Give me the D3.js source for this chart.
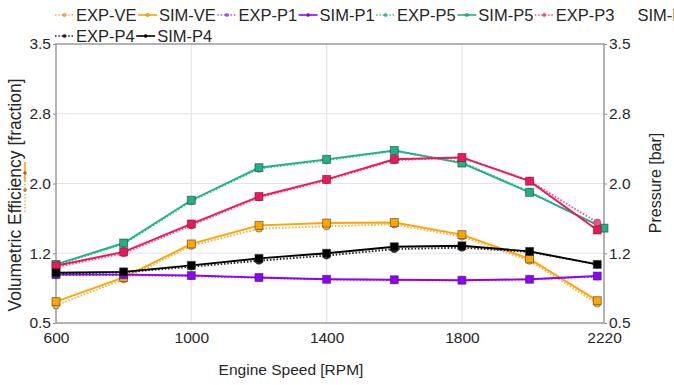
<!DOCTYPE html>
<html>
<head>
<meta charset="utf-8">
<script src="https://cdn.jsdelivr.net/npm/d3@7/dist/d3.min.js"></script>
<style>
  html, body { margin: 0; padding: 0; background: #fff; }
  svg { display: block; font-family: "Liberation Sans", Arial, sans-serif; }
</style>
</head>
<body>
<svg id="chart" width="674" height="385"></svg>
<script>
// Engine speed sweep (RPM)
const speeds   = [600, 800, 1000, 1200, 1400, 1600, 1800, 2000, 2200];
const speedsP5 = [600, 800, 1000, 1200, 1400, 1600, 1800, 2000, 2220];

// Volumetric efficiency (fraction)
const expVE = [0.69, 0.97, 1.33, 1.515, 1.54, 1.56, 1.43, 1.17, 0.71];
const simVE = [0.73, 0.99, 1.35, 1.55, 1.575, 1.58, 1.45, 1.19, 0.74];

// Pressures (bar)
const expP1 = [1.015, 1.015, 1.005, 0.985, 0.968, 0.962, 0.958, 0.968, 1.0];
const simP1 = [1.02, 1.02, 1.01, 0.99, 0.97, 0.965, 0.96, 0.97, 1.005];
const expP5 = [1.12, 1.35, 1.81, 2.16, 2.25, 2.35, 2.23, 1.91, 1.52];
const simP5 = [1.13, 1.36, 1.82, 2.17, 2.26, 2.355, 2.22, 1.905, 1.52];
const expP3 = [1.10, 1.25, 1.55, 1.85, 2.035, 2.25, 2.28, 2.03, 1.58];
const simP3 = [1.115, 1.265, 1.565, 1.86, 2.045, 2.26, 2.28, 2.025, 1.50];
const expP4 = [1.03, 1.045, 1.105, 1.17, 1.225, 1.295, 1.31, 1.265, 1.13];
const simP4 = [1.04, 1.05, 1.12, 1.195, 1.25, 1.32, 1.33, 1.27, 1.13];

// Axis ticks
const xTicks = [600, 1000, 1400, 1800, 2220];
const yTicks = [0.5, 1.25, 2.0, 2.75, 3.5];
const yTickLabels = ["0.5", "1.2", "2.0", "2.8", "3.5"];

const series = [
  { name: "EXP-VE", x: speeds,   y: expVE, color: "#f6ad4a", exp: true },
  { name: "SIM-VE", x: speeds,   y: simVE, color: "#ffa500", exp: false },
  { name: "EXP-P1", x: speeds,   y: expP1, color: "#a64dff", exp: true },
  { name: "SIM-P1", x: speeds,   y: simP1, color: "#9000ff", exp: false },
  { name: "EXP-P5", x: speedsP5, y: expP5, color: "#3cc096", exp: true },
  { name: "SIM-P5", x: speedsP5, y: simP5, color: "#1db386", exp: false },
  { name: "EXP-P3", x: speeds,   y: expP3, color: "#ff4a82", exp: true },
  { name: "SIM-P3", x: speeds,   y: simP3, color: "#f5145a", exp: false },
  { name: "EXP-P4", x: speeds,   y: expP4, color: "#222222", exp: true },
  { name: "SIM-P4", x: speeds,   y: simP4, color: "#000000", exp: false }
];

const svg = d3.select("#chart");
const plot = { left: 56, right: 604, top: 44, bottom: 323 };

const x = d3.scaleLinear().domain([600, 2220]).range([plot.left, plot.right]);
const y = d3.scaleLinear().domain([0.5, 3.5]).range([plot.bottom, plot.top]);

// Grid lines
const grid = svg.append("g");
grid.selectAll("line.gx").data(xTicks.slice(1, -1)).join("line")
  .attr("x1", d => x(d)).attr("x2", d => x(d))
  .attr("y1", plot.top).attr("y2", plot.bottom)
  .attr("stroke", "#e4e4e4").attr("stroke-width", 1.2);
grid.selectAll("line.gy").data(yTicks.slice(1, -1)).join("line")
  .attr("x1", plot.left).attr("x2", plot.right)
  .attr("y1", d => y(d)).attr("y2", d => y(d))
  .attr("stroke", "#e4e4e4").attr("stroke-width", 1.2);

// Axes
const fmtY = d => yTickLabels[yTicks.indexOf(d)];
function styleAxis(g) {
  g.select(".domain").remove();
  g.selectAll(".tick line").attr("stroke", "#8a8a8a").attr("stroke-width", 1);
  g.selectAll(".tick text").attr("fill", "#262626").attr("font-size", 15.5)
    .attr("font-family", "'Liberation Sans', Arial, sans-serif");
}
svg.append("g").attr("transform", `translate(0,${plot.bottom})`)
  .call(d3.axisBottom(x).tickValues(xTicks).tickSize(0).tickPadding(9).tickFormat(d3.format("d")))
  .call(styleAxis);
svg.append("g").attr("transform", `translate(${plot.left},0)`)
  .call(d3.axisLeft(y).tickValues(yTicks).tickSize(3).tickPadding(2).tickFormat(fmtY))
  .call(styleAxis);
svg.append("g").attr("transform", `translate(${plot.right},0)`)
  .call(d3.axisRight(y).tickValues(yTicks).tickSize(3).tickPadding(2).tickFormat(fmtY))
  .call(styleAxis);

// Plot frame
svg.append("rect")
  .attr("x", plot.left).attr("y", plot.top)
  .attr("width", plot.right - plot.left).attr("height", plot.bottom - plot.top)
  .attr("fill", "none").attr("stroke", "#9a9a9a").attr("stroke-width", 1.5);

// Series lines and markers
const line = d3.line().x(d => x(d[0])).y(d => y(d[1]));
const marks = svg.append("g");
series.forEach(s => {
  const pts = s.x.map((v, i) => [v, s.y[i]]);
  const g = marks.append("g");
  g.append("path").datum(pts).attr("d", line)
    .attr("fill", "none").attr("stroke", s.color)
    .attr("stroke-width", 1.9)
    .attr("stroke-dasharray", s.exp ? "1.5,1.8" : null);
  if (s.exp) {
    g.selectAll("circle").data(pts).join("circle")
      .attr("cx", d => x(d[0])).attr("cy", d => y(d[1])).attr("r", 3.6)
      .attr("fill", s.color).attr("stroke", "#444").attr("stroke-opacity", 0.55).attr("stroke-width", 0.9);
  } else {
    g.selectAll("rect").data(pts).join("rect")
      .attr("x", d => x(d[0]) - 4).attr("y", d => y(d[1]) - 4)
      .attr("width", 8).attr("height", 8)
      .attr("fill", s.color).attr("stroke", "#333").attr("stroke-opacity", 0.6).attr("stroke-width", 0.9);
  }
});

// Legend (two rows across the top; the last entry of the first row runs off the edge)
const legend = svg.append("g").attr("font-size", 16.5).attr("fill", "#262626");
const rows = [series.slice(0, 8), series.slice(8)];
rows.forEach((row, r) => {
  let cx = 55;
  const cy = 15 + r * 21;
  row.forEach(s => {
    const item = legend.append("g");
    if (s.name !== "SIM-P3") {
      item.append("line").attr("x1", cx).attr("x2", cx + 19).attr("y1", cy).attr("y2", cy)
        .attr("stroke", s.color).attr("stroke-width", 1.6)
        .attr("stroke-dasharray", s.exp ? "1.5,1.8" : null);
      item.append("circle").attr("cx", cx + 9.5).attr("cy", cy).attr("r", 1.8).attr("fill", s.color)
        .attr("stroke", "#444").attr("stroke-opacity", 0.4).attr("stroke-width", 0.5);
    }
    const t = item.append("text").attr("x", cx + 21).attr("y", cy).attr("dy", "0.35em")
      .attr("fill", "#262626").text(s.name);
    const w = t.node().getComputedTextLength();
    cx += 21 + w + (s.name === "EXP-P3" ? 2 : 1.5);
  });
});

// Axis titles
svg.append("text")
  .attr("transform", "translate(15,195) rotate(-90)")
  .attr("text-anchor", "middle").attr("dy", "0.35em")
  .attr("font-size", 17.5).attr("fill", "#262626")
  .text("Volumetric Efficiency [fraction]");
svg.append("text")
  .attr("transform", "translate(655,183) rotate(-90)")
  .attr("text-anchor", "middle").attr("dy", "0.35em")
  .attr("font-size", 16).attr("fill", "#262626")
  .text("Pressure [bar]");
svg.append("text")
  .attr("x", 291).attr("y", 370).attr("text-anchor", "middle").attr("dy", "0.35em")
  .attr("font-size", 15.5).attr("fill", "#262626")
  .text("Engine Speed [RPM]");

// Small VE key beside the left title
const key = svg.append("g");
key.append("line").attr("x1", 25).attr("x2", 25).attr("y1", 162).attr("y2", 182)
  .attr("stroke", series[1].color).attr("stroke-width", 1.6);
key.append("circle").attr("cx", 25).attr("cy", 173).attr("r", 1.8).attr("fill", "#a06a10");
key.append("line").attr("x1", 25).attr("x2", 25).attr("y1", 184).attr("y2", 212)
  .attr("stroke", series[0].color).attr("stroke-width", 1.6).attr("stroke-dasharray", "1.5,1.8");
key.append("circle").attr("cx", 25).attr("cy", 190).attr("r", 1.8).attr("fill", "#b07a30");
</script>
</body>
</html>
